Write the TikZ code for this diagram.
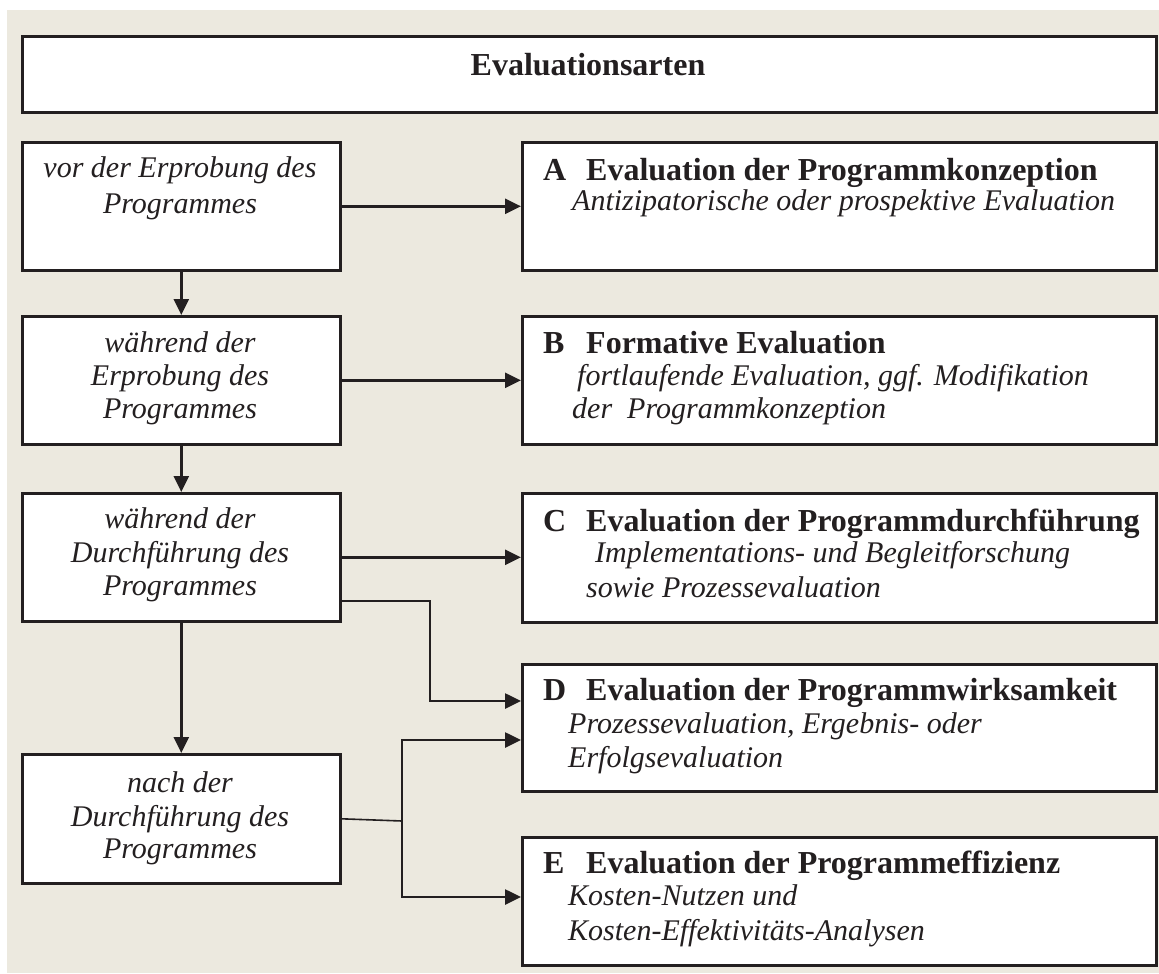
\documentclass[tikz,border=0pt]{standalone}
\usepackage{fontspec}
\setmainfont{Liberation Serif}
\usetikzlibrary{arrows.meta}
\definecolor{bg}{HTML}{ECE9DF}
\definecolor{ink}{HTML}{231F20}
\tikzset{
  box/.style={draw=ink, fill=white, line width=2.6pt, anchor=north west, inner sep=0pt},
  conn/.style={draw=ink, line width=2.6pt},
  arr/.style={conn, -{Triangle[length=16pt,width=15pt]}},
  thinconn/.style={draw=ink, line width=1.6pt},
  it/.style={font=\fontsize{30}{33}\selectfont\itshape, text=ink, inner sep=0pt},
  hd/.style={font=\fontsize{32}{33}\selectfont\bfseries, text=ink, inner sep=0pt, anchor=base west},
  ln/.style={it, anchor=base west},
  cl/.style={it, anchor=base},
}
\begin{document}
\begin{tikzpicture}[x=1pt,y=-1pt]
\useasboundingbox (0,0) rectangle (1159,974);
\fill[white] (0,0) rectangle (1159,974);
\fill[bg] (7,10) rectangle (1159,973);

% title
\node[box, minimum width=1134pt, minimum height=76pt] (title) at (21,35) {};
\node[hd, anchor=base] (tt) at (588,75) {Evaluationsarten};

% left boxes
\node[box, minimum width=318pt, minimum height=128pt] (l1) at (21,141) {};
\node[box, minimum width=318pt, minimum height=128pt] (l2) at (21,315) {};
\node[box, minimum width=318pt, minimum height=128pt] (l3) at (21,492) {};
\node[box, minimum width=318pt, minimum height=129pt] (l4) at (21,753) {};

% right boxes
\node[box, minimum width=634pt, minimum height=128pt] (rA) at (521,141) {};
\node[box, minimum width=634pt, minimum height=128pt] (rB) at (521,315) {};
\node[box, minimum width=634pt, minimum height=129pt] (rC) at (521,492) {};
\node[box, minimum width=634pt, minimum height=127pt] (rD) at (521,663) {};
\node[box, minimum width=634pt, minimum height=128pt] (rE) at (521,836) {};

% left texts
\node[cl] (t11) at (180,177) {vor der Erprobung des};
\node[cl] (t12) at (180,213) {Programmes};
\node[cl] (t21) at (180,352) {während der};
\node[cl] (t22) at (180,385) {Erprobung des};
\node[cl] (t23) at (180,418) {Programmes};
\node[cl] (t31) at (180,528) {während der};
\node[cl] (t32) at (180,562) {Durchführung des};
\node[cl] (t33) at (180,595) {Programmes};
\node[cl] (t41) at (180,792) {nach der};
\node[cl] (t42) at (180,826) {Durchführung des};
\node[cl] (t43) at (180,858) {Programmes};

% right texts
\node[hd] (aL) at (543,180) {A};
\node[hd] (aH) at (586,180) {Evaluation der Programmkonzeption};
\node[ln] (a1) at (572,210) {Antizipatorische oder prospektive Evaluation};

\node[hd] (bL) at (543,353) {B};
\node[hd] (bH) at (586,353) {Formative Evaluation};
\node[ln] (b1) at (577,385) {fortlaufende Evaluation, ggf. Modifikation};
\node[ln] (b2) at (572,418) {der\ \ Programmkonzeption};

\node[hd] (cL) at (543,531) {C};
\node[hd] (cH) at (586,531) {Evaluation der Programmdurchführung};
\node[ln] (c1) at (595,562) {Implementations- und Begleitforschung};
\node[ln] (c2) at (586,597) {sowie Prozessevaluation};

\node[hd] (dL) at (543,700) {D};
\node[hd] (dH) at (586,700) {Evaluation der Programmwirksamkeit};
\node[ln] (d1) at (568,733) {Prozessevaluation, Ergebnis- oder};
\node[ln] (d2) at (568,767) {Erfolgsevaluation};

\node[hd] (eL) at (543,873) {E};
\node[hd] (eH) at (586,873) {Evaluation der Programmeffizienz};
\node[ln] (e1) at (568,905) {Kosten-Nutzen und};
\node[ln] (e2) at (568,940) {Kosten-Effektivitäts-Analysen};

% connectors
\draw[arr] (l1.east) -- (l1.east -| rA.west);
\draw[arr] (l2.east) -- (l2.east -| rB.west);
\draw[arr] (l3.east) -- (l3.east -| rC.west);
\draw[arr] (l1.south) -- (l2.north);
\draw[arr] (l2.south) -- (l3.north);
\draw[arr] (l3.south) -- (l4.north);

\coordinate (j1) at (430,601);
\coordinate (dA) at (521,701);
\coordinate (j2) at (402,740);
\coordinate (j3) at (402,897);
\coordinate (j4) at (402,821);
\draw[arr] (l3.east |- j1) -- (j1) |- (rD.west |- dA);
\draw[arr] (j3) |- (rD.west |- j2);
\draw[arr] (j2) |- (rE.west |- j3);
\draw[thinconn] (l4.east) -- (j4);
\end{tikzpicture}
\end{document}
